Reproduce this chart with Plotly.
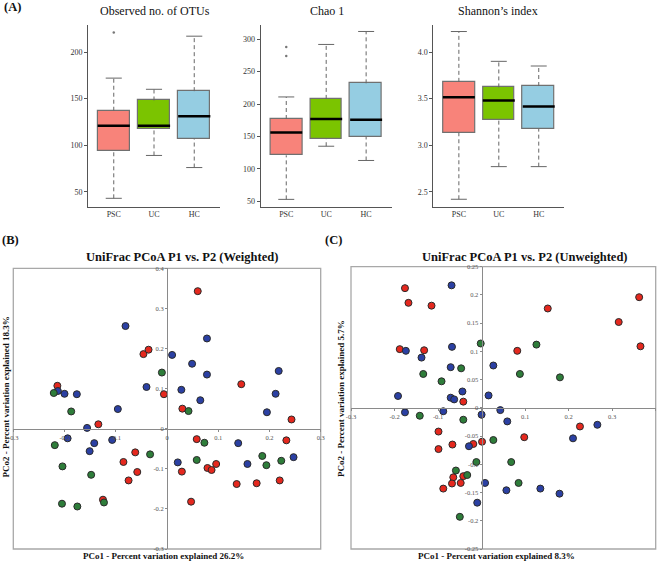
import plotly.graph_objects as go

# ---------------- data ----------------
groups = ["PSC", "UC", "HC"]
box_colors = ["#F8837A", "#7BC400", "#95CDE2"]

# Observed no. of OTUs
otu_low = [43, 89, 76]
otu_q1 = [94, 117, 107]
otu_med = [121, 121, 131]
otu_q3 = [137, 148, 158]
otu_high = [172, 160, 217]
otu_out_x = ["PSC"]
otu_out_y = [221]

# Chao 1
chao_low = [53, 135, 113]
chao_q1 = [121, 146, 150]
chao_med = [156, 177, 176]
chao_q3 = [177, 208, 232]
chao_high = [211, 292, 312]
chao_out_x = ["PSC", "PSC"]
chao_out_y = [288, 274]

# Shannon's index
sh_low = [2.42, 2.77, 2.77]
sh_q1 = [3.135, 3.27, 3.175]
sh_med = [3.515, 3.48, 3.415]
sh_q3 = [3.68, 3.62, 3.635]
sh_high = [4.22, 3.90, 3.85]

# Weighted UniFrac PCoA (B)
w_red_x = [-0.046, -0.036, -0.006, -0.214, -0.134, 0.060, 0.145, 0.030, 0.243, -0.062, -0.085,
           -0.058, -0.075, -0.125, 0.058, 0.096, 0.079, 0.087, 0.029, 0.233, 0.136, 0.175, 0.220, 0.047]
w_red_y = [0.186, 0.197, 0.086, 0.107, 0.011, 0.343, 0.111, 0.050, 0.023, -0.059, -0.083,
           -0.108, -0.129, -0.177, -0.026, -0.088, -0.098, -0.103, -0.107, -0.029, -0.138, -0.136, -0.129, -0.182]
w_blue_x = [-0.081, -0.040, -0.213, -0.200, -0.176, -0.096, -0.156, 0.078, 0.010, 0.049, 0.078,
            0.218, 0.028, 0.212, 0.065, 0.195, -0.194, -0.142, -0.107, -0.151, 0.139, 0.021, 0.157, 0.247]
w_blue_y = [0.256, 0.104, 0.094, 0.087, 0.086, 0.049, 0.002, 0.225, 0.184, 0.162, 0.135,
            0.144, 0.097, 0.087, 0.071, 0.041, -0.024, -0.036, -0.028, -0.056, -0.036, -0.084, -0.088, -0.071]
w_green_x = [-0.010, -0.221, -0.187, 0.042, -0.219, -0.033, -0.204, -0.148, -0.123, -0.205, -0.175,
             0.073, 0.058, 0.186, 0.194, 0.223]
w_green_y = [0.140, 0.089, 0.043, 0.044, -0.041, -0.064, -0.094, -0.115, -0.184, -0.187, -0.194,
             -0.035, -0.078, -0.068, -0.091, -0.080]

# Unweighted UniFrac PCoA (C)
u_red_x = [-0.176, -0.168, -0.115, -0.188, -0.132, -0.042, -0.099, 0.362, 0.152, 0.315, 0.365, 0.082,
           0.226, 0.098, 0.001, -0.019, -0.067, -0.099, -0.042, -0.065, -0.068, -0.048, -0.088]
u_red_y = [0.212, 0.186, 0.181, 0.104, 0.102, 0.011, -0.042, 0.196, 0.176, 0.152, 0.109, 0.101,
           -0.033, -0.052, -0.060, -0.064, -0.065, -0.073, -0.121, -0.123, -0.134, -0.133, -0.143]
u_blue_x = [-0.069, -0.174, -0.068, -0.138, -0.071, 0.027, -0.192, -0.071, -0.063, -0.044, 0.016,
            -0.176, -0.088, 0.000, 0.043, 0.059, 0.266, 0.210, -0.029, 0.008, 0.057, 0.135, 0.179, -0.010]
u_blue_y = [0.217, 0.101, 0.108, 0.089, 0.072, 0.075, 0.021, 0.018, 0.015, 0.029, 0.022,
            -0.008, -0.006, -0.012, -0.004, -0.024, -0.030, -0.054, -0.068, -0.133, -0.146, -0.143, -0.152, -0.168]
u_green_x = [-0.002, -0.047, -0.134, -0.092, 0.126, 0.088, 0.180, -0.142, -0.042, 0.027, -0.012,
             0.068, -0.059, -0.033, 0.085, -0.050]
u_green_y = [0.114, 0.070, 0.060, 0.047, 0.112, 0.060, 0.054, -0.014, -0.021, -0.057, -0.096,
             -0.096, -0.111, -0.119, -0.133, -0.193]

# ---------------- figure ----------------
SERIF = "Liberation Serif, Times New Roman, serif"
W, H = 660, 561
fig = go.Figure()

box_sets = [
    ("x", "y", otu_low, otu_q1, otu_med, otu_q3, otu_high, otu_out_x, otu_out_y),
    ("x2", "y2", chao_low, chao_q1, chao_med, chao_q3, chao_high, chao_out_x, chao_out_y),
    ("x3", "y3", sh_low, sh_q1, sh_med, sh_q3, sh_high, [], []),
]
BW = 0.8
for xa, ya, lo, q1, med, q3, hi, ox, oy in box_sets:
    pos = list(range(len(groups)))
    wx, wy = [], []
    cx, cy = [], []
    mx, my = [], []
    for i in pos:
        wx += [i, i, None, i, i, None]
        wy += [lo[i], q1[i], None, q3[i], hi[i], None]
        cx += [i - BW / 4, i + BW / 4, None, i - BW / 4, i + BW / 4, None]
        cy += [lo[i], lo[i], None, hi[i], hi[i], None]
        mx += [i - BW / 2, i + BW / 2, None]
        my += [med[i], med[i], None]
    fig.add_trace(go.Scatter(x=wx, y=wy, mode="lines", xaxis=xa, yaxis=ya,
                             line=dict(color="#666666", width=1, dash="4px,3px"),
                             showlegend=False, hoverinfo="skip"))
    fig.add_trace(go.Scatter(x=cx, y=cy, mode="lines", xaxis=xa, yaxis=ya,
                             line=dict(color="#666666", width=1), showlegend=False, hoverinfo="skip"))
    fig.add_trace(go.Bar(x=pos, y=[q3[i] - q1[i] for i in pos], base=q1, width=BW,
                         xaxis=xa, yaxis=ya,
                         marker=dict(color=box_colors, line=dict(color="#707070", width=1.2)),
                         showlegend=False))
    fig.add_trace(go.Scatter(x=mx, y=my, mode="lines", xaxis=xa, yaxis=ya,
                             line=dict(color="#000000", width=2.5), showlegend=False, hoverinfo="skip"))
    if ox:
        fig.add_trace(go.Scatter(x=[groups.index(g) for g in ox], y=oy, mode="markers",
                                 xaxis=xa, yaxis=ya,
                                 marker=dict(color="#777777", size=2.5), showlegend=False))

pt_red, pt_blue, pt_green = "#E5281E", "#2B40A3", "#2E7D3A"
for xa, ya, sets in [
    ("x4", "y4", [(w_red_x, w_red_y, pt_red), (w_blue_x, w_blue_y, pt_blue), (w_green_x, w_green_y, pt_green)]),
    ("x5", "y5", [(u_red_x, u_red_y, pt_red), (u_blue_x, u_blue_y, pt_blue), (u_green_x, u_green_y, pt_green)]),
]:
    for xs, ys, col in sets:
        fig.add_trace(go.Scatter(x=xs, y=ys, mode="markers", xaxis=xa, yaxis=ya,
                                 marker=dict(color=col, size=7, line=dict(color="#2a2a2a", width=1)),
                                 showlegend=False))

# ---------------- axes ----------------
def px_x(p):
    return p / W

def px_y(p):
    return 1 - p / H

ydomA = [px_y(206.7), px_y(25)]
a_xdoms = [[px_x(88), px_x(220)], [px_x(260.7), px_x(391.7)], [px_x(433.3), px_x(564.3)]]
a_yranges = [[34, 229], [41.7, 322], [2.34, 4.29]]
a_ytickvals = [[50, 100, 150, 200], [50, 100, 150, 200, 250, 300], [2.5, 3.0, 3.5, 4.0]]
a_yticktext = [["50", "100", "150", "200"], ["50", "100", "150", "200", "250", "300"],
               ["2.5", "3.0", "3.5", "4.0"]]

lay = dict(width=W, height=H, margin=dict(l=0, r=0, t=0, b=0, pad=0, autoexpand=False),
           paper_bgcolor="white", plot_bgcolor="white",
           font=dict(family=SERIF, color="#333333"), bargap=0)

for k in range(3):
    sx = "" if k == 0 else str(k + 1)
    lay["xaxis" + sx] = dict(domain=a_xdoms[k], anchor="y" + sx, range=[-0.64, 2.64],
                             tickvals=[0, 1, 2], ticktext=groups, showline=True,
                             linecolor="#555555", linewidth=1, ticks="", showgrid=False,
                             zeroline=False, automargin=False,
                             tickfont=dict(size=8, color="#333333"))
    lay["yaxis" + sx] = dict(domain=ydomA, anchor="x" + sx, range=a_yranges[k],
                             tickvals=a_ytickvals[k], ticktext=a_yticktext[k], showline=True,
                             linecolor="#555555", linewidth=1, ticks="outside", ticklen=3,
                             tickcolor="#555555", showgrid=False, zeroline=False, automargin=False,
                             tickfont=dict(size=8, color="#333333"))

pc = [
    ([px_x(13.3), px_x(320.7)], [px_y(549), px_y(268.3)], [-0.3, 0.3], [-0.3, 0.4],
     [-0.3, -0.2, -0.1, 0, 0.1, 0.2, 0.3], [-0.3, -0.2, -0.1, 0, 0.1, 0.2, 0.3, 0.4]),
    ([px_x(351), px_x(655.7)], [px_y(549), px_y(266.7)], [-0.3, 0.4], [-0.25, 0.25],
     [-0.3, -0.2, -0.1, 0, 0.1, 0.2, 0.3, 0.4], [-0.25, -0.2, -0.15, -0.1, -0.05, 0, 0.05, 0.1, 0.15, 0.2, 0.25]),
]

def fmt(v):
    return "%g" % round(v, 3)

for j, (xd, yd, xr, yr, xt, yt) in enumerate(pc):
    sx = str(4 + j)
    ypos = yd[0] + (0 - yr[0]) / (yr[1] - yr[0]) * (yd[1] - yd[0])
    xpos = xd[0] + (0 - xr[0]) / (xr[1] - xr[0]) * (xd[1] - xd[0])
    lay["xaxis" + sx] = dict(domain=xd, range=xr, anchor="free", position=ypos,
                             tickvals=xt, ticktext=[fmt(v) for v in xt], showline=True,
                             linecolor="#8a8a8a", linewidth=1, ticks="outside", ticklen=2,
                             tickcolor="#8a8a8a", showgrid=False, zeroline=False, automargin=False,
                             tickfont=dict(size=6.5, color="#555555"))
    lay["yaxis" + sx] = dict(domain=yd, range=yr, anchor="free", position=xpos,
                             tickvals=yt, ticktext=[fmt(v) for v in yt], showline=True,
                             linecolor="#8a8a8a", linewidth=1, ticks="outside", ticklen=2,
                             tickcolor="#8a8a8a", showgrid=False, zeroline=False, automargin=False,
                             tickfont=dict(size=6.5, color="#555555"))

fig.update_layout(**lay)

for j in range(2):
    sx = str(4 + j)
    fig.add_shape(type="rect", xref="x%s domain" % sx, yref="y%s domain" % sx,
                  x0=0, x1=1, y0=0, y1=1, line=dict(color="#a8a8a8", width=1.3), layer="below")

# ---------------- text ----------------
def ann(text, x, y, size, bold=False, angle=0, color="#111111"):
    fig.add_annotation(text=("<b>%s</b>" % text) if bold else text, x=px_x(x), y=px_y(y),
                       xref="paper", yref="paper", showarrow=False, textangle=angle,
                       font=dict(family=SERIF, size=size, color=color),
                       xanchor="center", yanchor="middle", borderpad=0)

ann("(A)", 12, 7, 12.5, bold=True)
ann("(B)", 10, 240, 12.5, bold=True)
ann("(C)", 333, 240, 12.5, bold=True)
ann("Observed no. of OTUs", 155, 11, 12)
ann("Chao 1", 326.7, 11, 12)
ann("Shannon’s index", 498.3, 11, 12)
ann("UniFrac PCoA P1 vs. P2 (Weighted)", 182, 257, 12.5, bold=True)
ann("UniFrac PCoA P1 vs. P2 (Unweighted)", 524.5, 257, 12.5, bold=True)
ann("PCo1 - Percent variation explained 26.2%", 163, 555.5, 9, bold=True)
ann("PCo1 - Percent variation explained 8.3%", 496.7, 555.5, 9, bold=True)
ann("PCo2 - Percent variation explained 18.3%", 5.5, 397, 9, bold=True, angle=-90)
ann("PCo2 - Percent variation explained 5.7%", 341, 399, 9, bold=True, angle=-90)

fig.write_html("out.html", config={"displayModeBar": False},
               post_script="document.body.style.margin='0';document.body.style.overflow='hidden';")
